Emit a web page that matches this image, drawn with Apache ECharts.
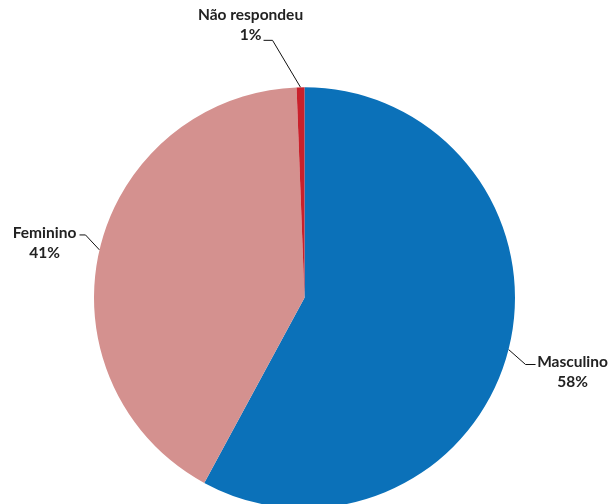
<!DOCTYPE html>
<html><head><meta charset="utf-8">
<script src="https://cdn.jsdelivr.net/npm/echarts@6/dist/echarts.min.js"></script>
<style>html,body{margin:0;padding:0;background:#fff}#c{width:608px;height:504px}</style>
</head><body><div id="c"></div>
<script>
const categories = ['Masculino', 'Feminino', 'Não respondeu'];
const values = [57.9, 41.5, 0.6];
const colors = ['#0b71b9', '#d4918f', '#c9202b'];

// leader geometry offsets (first bend, second bend, label centre) relative to slice edge point
const bend1 = [[17, 15], [-14, -15], [-28, -47]];
const bend2 = [[10, 0], [-6, 0], [-9, 0]];
const labelOff = [[37, 7], [-35, 8], [-13, -15]];

const chart = echarts.init(document.getElementById('c'), null, {renderer: 'canvas'});
chart.setOption({
  animation: false,
  series: [{
    type: 'pie',
    center: [304.5, 297.8],
    radius: 210.5,
    startAngle: 90,
    clockwise: true,
    percentPrecision: 0,
    data: categories.map((n, i) => ({name: n, value: values[i], itemStyle: {color: colors[i]}})),
    itemStyle: {borderWidth: 0},
    label: {
      show: true,
      position: 'outside',
      formatter: '{b}\n{d}%',
      fontFamily: 'Lato',
      fontWeight: 'bold',
      fontSize: 15.5,
      lineHeight: 20,
      color: '#222',
      align: 'center',
      overflow: 'none',
      edgeDistance: 0
    },
    labelLine: {show: true, length: 20, length2: 10, lineStyle: {color: '#111', width: 1}},
    labelLayout: function (p) {
      const i = p.dataIndex;
      const e = p.labelLinePoints[0];
      const b1 = [e[0] + bend1[i][0], e[1] + bend1[i][1]];
      const b2 = [b1[0] + bend2[i][0], b1[1] + bend2[i][1]];
      return {
        x: b2[0] + labelOff[i][0],
        y: b2[1] + labelOff[i][1],
        align: 'center',
        verticalAlign: 'middle',
        labelLinePoints: [e, b1, b2]
      };
    }
  }]
});
</script></body></html>
